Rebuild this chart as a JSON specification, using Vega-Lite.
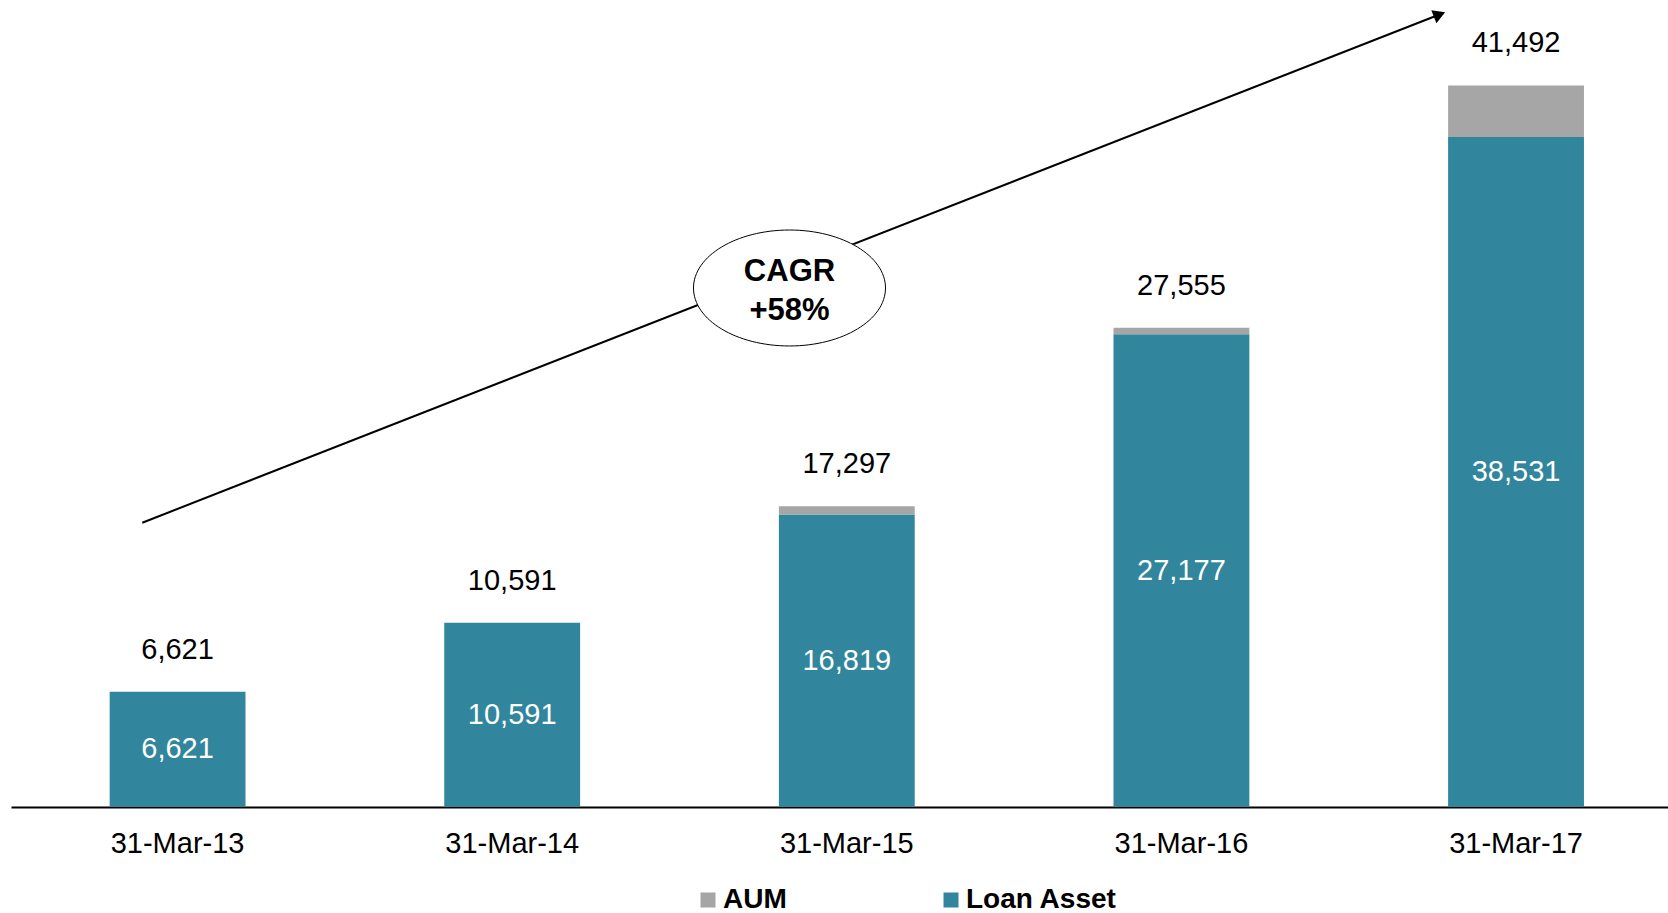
{
  "$schema": "https://vega.github.io/schema/vega-lite/v6.json",
  "width": 1657,
  "height": 807,
  "autosize": "none",
  "padding": {"left": 11, "top": 0, "right": 0, "bottom": 106},
  "background": "white",
  "config": {"view": {"stroke": null}, "font": "Liberation Sans"},
  "datasets": {
    "assets": [
      {"date": "31-Mar-13", "series": "Loan Asset", "value": 6621},
      {"date": "31-Mar-13", "series": "AUM", "value": 0},
      {"date": "31-Mar-14", "series": "Loan Asset", "value": 10591},
      {"date": "31-Mar-14", "series": "AUM", "value": 0},
      {"date": "31-Mar-15", "series": "Loan Asset", "value": 16819},
      {"date": "31-Mar-15", "series": "AUM", "value": 478},
      {"date": "31-Mar-16", "series": "Loan Asset", "value": 27177},
      {"date": "31-Mar-16", "series": "AUM", "value": 378},
      {"date": "31-Mar-17", "series": "Loan Asset", "value": 38531},
      {"date": "31-Mar-17", "series": "AUM", "value": 2961}
    ],
    "notes": [
      {"part": "arrow", "x": -0.1067, "y": 16347, "x2": 3.769, "y2": 45569},
      {"part": "badge", "x": 1.827, "y": 29843, "label": "CAGR\n+58%"},
      {"part": "head", "x": 3.769, "y": 45569}
    ]
  },
  "layer": [
    {
      "data": {"name": "assets"},
      "layer": [
        {
          "mark": {"type": "bar"},
          "encoding": {
            "x": {"field": "date", "type": "nominal", "sort": null, "title": null,
              "scale": {"paddingInner": 0.594, "paddingOuter": 0.273, "align": 0.54},
              "axis": {"domainColor": "black", "domainWidth": 2, "ticks": false, "labelAngle": 0, "labelFont": "Liberation Sans", "labelFontSize": 29, "labelColor": "black", "labelPadding": 22, "grid": false, "labelLimit": 400}},
            "y": {"field": "value", "type": "quantitative", "stack": "zero", "scale": {"domain": [0, 46403], "nice": false}, "axis": null},
            "order": {"field": "series", "sort": "descending"},
            "color": {"field": "series", "type": "nominal",
              "scale": {"domain": ["AUM", "Loan Asset"], "range": ["#A6A6A6", "#31859C"]},
              "legend": {"orient": "none", "legendX": 683, "legendY": 886, "direction": "horizontal", "title": null, "symbolType": "square", "symbolSize": 225, "symbolStrokeWidth": 0, "labelFont": "Liberation Sans", "labelFontSize": 28, "labelFontWeight": "bold", "labelColor": "black", "labelOffset": 1, "columnPadding": 150, "padding": 0, "labelLimit": 400}}
          }
        },
        {
          "mark": {"type": "text", "baseline": "alphabetic", "dy": -33, "fontSize": 29, "font": "Liberation Sans", "color": "black"},
          "encoding": {
            "x": {"field": "date", "type": "nominal", "sort": null, "title": null,
              "scale": {"paddingInner": 0.594, "paddingOuter": 0.273, "align": 0.54},
              "axis": {"domainColor": "black", "domainWidth": 2, "ticks": false, "labelAngle": 0, "labelFont": "Liberation Sans", "labelFontSize": 29, "labelColor": "black", "labelPadding": 22, "grid": false, "labelLimit": 400}},
            "y": {"aggregate": "sum", "field": "value", "type": "quantitative", "scale": {"domain": [0, 46403], "nice": false}, "axis": null},
            "text": {"aggregate": "sum", "field": "value", "type": "quantitative", "format": ","}
          }
        },
        {
          "transform": [{"filter": "datum.series === 'Loan Asset'"}],
          "mark": {"type": "text", "baseline": "middle", "fontSize": 29, "font": "Liberation Sans", "color": "white"},
          "encoding": {
            "x": {"field": "date", "type": "nominal", "sort": null, "title": null,
              "scale": {"paddingInner": 0.594, "paddingOuter": 0.273, "align": 0.54},
              "axis": {"domainColor": "black", "domainWidth": 2, "ticks": false, "labelAngle": 0, "labelFont": "Liberation Sans", "labelFontSize": 29, "labelColor": "black", "labelPadding": 22, "grid": false, "labelLimit": 400}},
            "y": {"field": "value", "type": "quantitative", "stack": "zero", "bandPosition": 0.5, "scale": {"domain": [0, 46403], "nice": false}, "axis": null},
            "text": {"field": "value", "type": "quantitative", "format": ","}
          }
        }
      ]
    },
    {
      "data": {"name": "notes"},
      "layer": [
        {
          "transform": [{"filter": "datum.part === 'arrow'"}],
          "mark": {"type": "rule", "strokeWidth": 2, "color": "black"},
          "encoding": {
            "x": {"field": "x", "type": "quantitative", "scale": {"domain": [-0.49895, 4.45175], "nice": false, "zero": false}, "axis": null},
            "y": {"field": "y", "type": "quantitative", "scale": {"domain": [0, 46403], "nice": false}, "axis": null},
            "x2": {"field": "x2"},
            "y2": {"field": "y2"}
          }
        },
        {
          "transform": [{"filter": "datum.part === 'badge'"}],
          "mark": {"type": "point", "shape": "M -1 0 A 1 0.604 0 1 1 1 0 A 1 0.604 0 1 1 -1 0 Z", "size": 36864, "filled": true, "fill": "white", "stroke": "black", "strokeWidth": 1, "opacity": 1},
          "encoding": {
            "x": {"field": "x", "type": "quantitative", "scale": {"domain": [-0.49895, 4.45175], "nice": false, "zero": false}, "axis": null},
            "y": {"field": "y", "type": "quantitative", "scale": {"domain": [0, 46403], "nice": false}, "axis": null}
          }
        },
        {
          "transform": [{"filter": "datum.part === 'badge'"}],
          "mark": {"type": "text", "baseline": "middle", "align": "center", "dy": -16, "fontSize": 31, "fontWeight": "bold", "font": "Liberation Sans", "color": "black", "lineBreak": "\n", "lineHeight": 39},
          "encoding": {
            "x": {"field": "x", "type": "quantitative", "scale": {"domain": [-0.49895, 4.45175], "nice": false, "zero": false}, "axis": null},
            "y": {"field": "y", "type": "quantitative", "scale": {"domain": [0, 46403], "nice": false}, "axis": null},
            "text": {"field": "label"}
          }
        },
        {
          "transform": [{"filter": "datum.part === 'head'"}],
          "mark": {"type": "point", "shape": "triangle-up", "angle": 68.6, "size": 196, "filled": true, "color": "black", "opacity": 1},
          "encoding": {
            "x": {"field": "x", "type": "quantitative", "scale": {"domain": [-0.49895, 4.45175], "nice": false, "zero": false}, "axis": null},
            "y": {"field": "y", "type": "quantitative", "scale": {"domain": [0, 46403], "nice": false}, "axis": null}
          }
        }
      ]
    }
  ],
  "resolve": {"scale": {"x": "independent"}}
}
